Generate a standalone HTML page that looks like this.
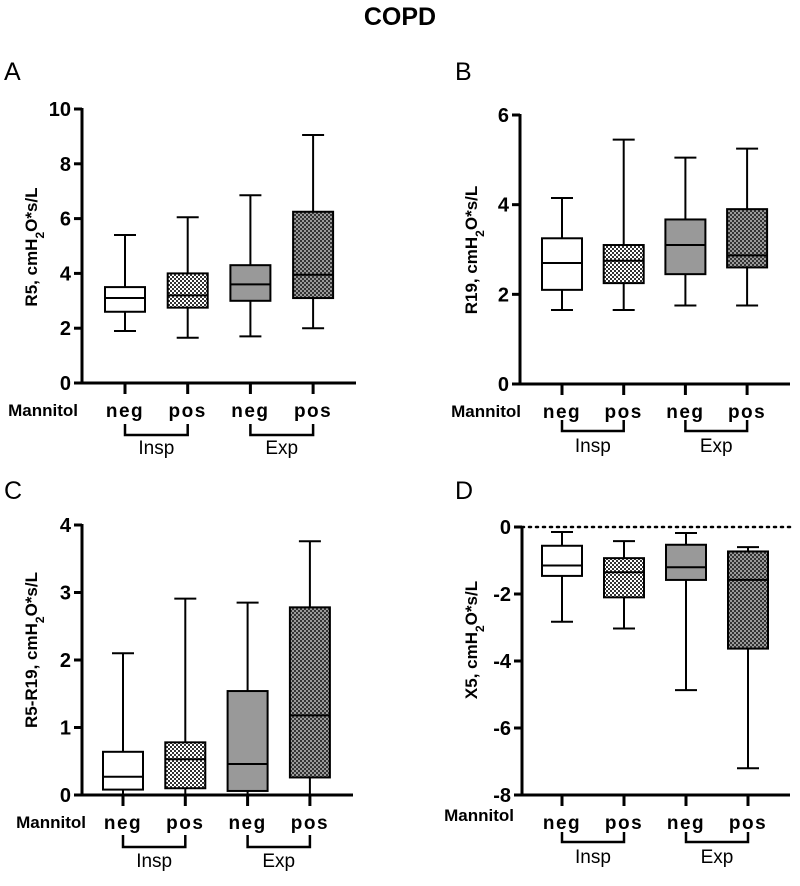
<!DOCTYPE html>
<html><head><meta charset="utf-8"><style>
html,body{margin:0;padding:0;background:#fff;width:800px;height:886px;overflow:hidden}
svg{display:block;font-family:"Liberation Sans",Arial,sans-serif}
</style></head><body>
<svg id="fig" width="800" height="886" viewBox="0 0 800 886">
<defs>
<pattern id="chkL" width="4" height="4" patternUnits="userSpaceOnUse"><rect width="4" height="4" fill="#fff"/><rect width="2" height="2" fill="#333"/><rect x="2" y="2" width="2" height="2" fill="#333"/></pattern>
<pattern id="chkD" width="4" height="4" patternUnits="userSpaceOnUse"><rect width="4" height="4" fill="#9a9a9a"/><rect width="2" height="2" fill="#333"/><rect x="2" y="2" width="2" height="2" fill="#333"/></pattern>
</defs>
<text x="400" y="25" text-anchor="middle" font-size="25" font-weight="bold">COPD</text>
</svg>
<script>
// Shared categories
const categories = ["neg","pos","neg","pos"];
const groups = ["Insp","Exp"];
// Panel A: R5  [min,q1,median,q3,max]
const aMin = [1.9,1.65,1.7,2.0];
const aQ1  = [2.6,2.75,3.0,3.1];
const aMed = [3.1,3.2,3.6,3.95];
const aQ3  = [3.5,4.0,4.3,6.25];
const aMax = [5.4,6.05,6.85,9.05];
const aTicks = [0,2,4,6,8,10];
// Panel B: R19
const bMin = [1.65,1.65,1.75,1.75];
const bQ1  = [2.1,2.25,2.45,2.6];
const bMed = [2.7,2.75,3.1,2.87];
const bQ3  = [3.25,3.1,3.67,3.9];
const bMax = [4.15,5.45,5.05,5.25];
const bTicks = [0,2,4,6];
// Panel C: R5-R19
const cMin = [0,0,0,0];
const cQ1  = [0.08,0.1,0.06,0.26];
const cMed = [0.27,0.53,0.46,1.18];
const cQ3  = [0.64,0.78,1.54,2.78];
const cMax = [2.1,2.91,2.85,3.76];
const cTicks = [0,1,2,3,4];
// Panel D: X5
const dMin = [-2.83,-3.03,-4.87,-7.2];
const dQ1  = [-1.46,-2.1,-1.58,-3.63];
const dMed = [-1.15,-1.35,-1.2,-1.58];
const dQ3  = [-0.56,-0.93,-0.53,-0.73];
const dMax = [-0.15,-0.42,-0.18,-0.6];
const dTicks = [-8,-6,-4,-2,0];

const fills = ["#fff","url(#chkL)","#999","url(#chkD)"];
const NS = "http://www.w3.org/2000/svg";
const svg = document.getElementById("fig");
function mk(tag, attrs, parent){
  const e = document.createElementNS(NS, tag);
  for (const k in attrs) e.setAttribute(k, attrs[k]);
  (parent||svg).appendChild(e);
  return e;
}
function panel(cfg){
  const g = mk("g", {});
  
  
  const lo = cfg.ticks[0], hi = cfg.ticks[cfg.ticks.length-1];
  const y = v => cfg.y0 + (v - lo) / (hi - lo) * (cfg.y1 - cfg.y0);
  const x = i => cfg.cx0 + i * cfg.dx;
  const base = cfg.y0;
  const L = mk("text", {x: cfg.lx, y: cfg.ly, "font-size": 25}, g);
  L.textContent = cfg.letter;
  
  
  if (cfg.zeroLine){
    const zl = mk("line", {x1: cfg.ax, x2: cfg.xend, y1: y(0), y2: y(0), stroke: "#000", "stroke-width": 2.5, "stroke-dasharray": "2 5", "stroke-linecap":"round"}, g);
    
    
  }
  const ya = mk("line", {x1: cfg.ax, x2: cfg.ax, y1: y(hi)-1, y2: base+1.5, stroke: "#000", "stroke-width": 3}, g);
  
  
  const xa = mk("line", {x1: cfg.ax-8, x2: cfg.xend, y1: base, y2: base, stroke: "#000", "stroke-width": 3}, g);
  
  
  cfg.ticks.forEach(t => {
    const tk = mk("line", {x1: cfg.ax-8, x2: cfg.ax, y1: y(t), y2: y(t), stroke: "#000", "stroke-width": 3}, g);
    
    
    const tl = mk("text", {x: cfg.ax-11, y: y(t)+7, "text-anchor": "end", "font-size": 20, "font-weight": "bold"}, g);
    tl.textContent = t;
    
    
  });
  const yt = mk("text", {x: 0, y: 0, "text-anchor": "middle", "font-size": 17, "font-weight": "bold", transform: `translate(${cfg.tx},${cfg.ty}) rotate(-90)`}, g);
  yt.innerHTML = cfg.title;
  
  
  const bw = 40;
  for (let i = 0; i < categories.length; i++){
    const bg = mk("g", {}, g);
    
    
    const cx = x(i);
    mk("line", {x1: cx, x2: cx, y1: y(cfg.max[i]), y2: y(cfg.min[i]), stroke: "#000", "stroke-width": 2}, bg);
    mk("line", {x1: cx-11, x2: cx+11, y1: y(cfg.max[i]), y2: y(cfg.max[i]), stroke: "#000", "stroke-width": 2}, bg);
    mk("line", {x1: cx-11, x2: cx+11, y1: y(cfg.min[i]), y2: y(cfg.min[i]), stroke: "#000", "stroke-width": 2}, bg);
    const top = Math.min(y(cfg.q1[i]), y(cfg.q3[i])), bot = Math.max(y(cfg.q1[i]), y(cfg.q3[i]));
    mk("rect", {x: cx-bw/2, y: top, width: bw, height: bot-top, fill: fills[i], stroke: "#000", "stroke-width": 2}, bg);
    mk("line", {x1: cx-bw/2, x2: cx+bw/2, y1: y(cfg.med[i]), y2: y(cfg.med[i]), stroke: "#000", "stroke-width": 2}, bg);
    const ct = mk("line", {x1: cx, x2: cx, y1: base, y2: base+11, stroke: "#000", "stroke-width": 3}, g);
    
    
    const cl = mk("text", {x: cx, y: cfg.catY+7, "text-anchor": "middle", "font-size": 19, "font-weight": "bold", "letter-spacing": 1.5}, g);
    cl.textContent = categories[i];
    
    
  }
  const ml = mk("text", {x: cfg.mx, y: cfg.manY+6, "text-anchor": "end", "font-size": 17, "font-weight": "bold"}, g);
  ml.textContent = "Mannitol";
  
  
  groups.forEach((gn, k) => {
    const xa1 = x(2*k), xa2 = x(2*k+1);
    const br = mk("path", {d: `M${xa1},${cfg.brTop} V${cfg.brY} H${xa2} V${cfg.brTop}`, fill: "none", stroke: "#000", "stroke-width": 2.5}, g);
    
    
    const gl = mk("text", {x: (xa1+xa2)/2, y: cfg.grpY+7, "text-anchor": "middle", "font-size": 19}, g);
    gl.textContent = gn;
    
    
  });
}
const sub = '<tspan baseline-shift="sub" font-size="12">2</tspan>';
panel({letter:"A", lx:4, ly:80, ticks:aTicks, min:aMin,q1:aQ1,med:aMed,q3:aQ3,max:aMax,
  ax:82, y0:383, y1:109, xend:356, cx0:125, dx:62.7, tx:37, ty:247,
  title:"R5, cmH"+sub+"O*s/L", catY:410, manY:410, mx:78, brTop:424, brY:435, grpY:447});
panel({letter:"B", lx:455, ly:80, ticks:bTicks, min:bMin,q1:bQ1,med:bMed,q3:bQ3,max:bMax,
  ax:520, y0:384, y1:115, xend:790, cx0:562, dx:61.7, tx:477, ty:250,
  title:"R19, cmH"+sub+"O*s/L", catY:411, manY:411, mx:521, brTop:420, brY:431, grpY:445});
panel({letter:"C", lx:4, ly:499, ticks:cTicks, min:cMin,q1:cQ1,med:cMed,q3:cQ3,max:cMax,
  ax:82, y0:795, y1:525, xend:353, cx0:123, dx:62.3, tx:37, ty:650,
  title:"R5-R19, cmH"+sub+"O*s/L", catY:822, manY:822, mx:86, brTop:835, brY:847, grpY:860});
panel({letter:"D", lx:455, ly:499, ticks:dTicks, min:dMin,q1:dQ1,med:dMed,q3:dQ3,max:dMax,
  ax:522, y0:795, y1:527, xend:790, cx0:562, dx:62, tx:477, ty:640, zeroLine:true,
  title:"X5, cmH"+sub+"O*s/L", catY:822, manY:815, mx:514, brTop:832, brY:842, grpY:856});
</script>
</body></html>
